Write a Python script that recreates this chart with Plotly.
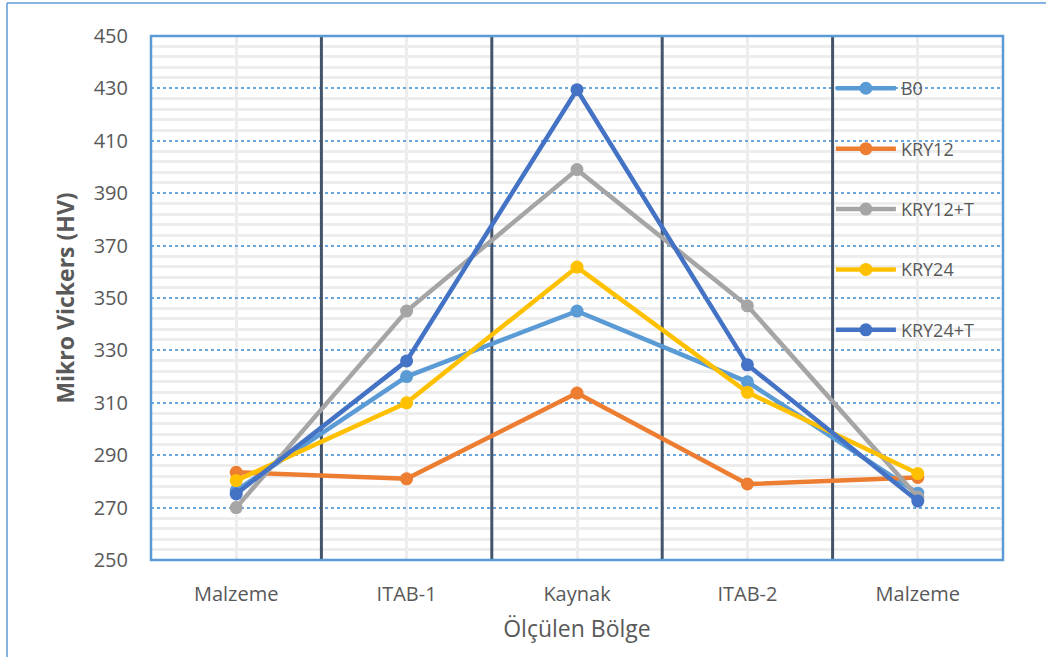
import plotly.graph_objects as go

categories = ["Malzeme", "ITAB-1", "Kaynak", "ITAB-2", "Malzeme"]

b0 = [276.5, 320, 345, 318, 275.5]
kry12 = [283.5, 281, 313.7, 279, 281.5]
kry12_t = [270, 345, 399, 347, 274]
kry24 = [280.3, 310, 361.8, 314, 283]
kry24_t = [275.2, 326, 429.5, 324.5, 272.5]

series = [
    ("B0", b0, "#5B9BD5"),
    ("KRY12", kry12, "#ED7D31"),
    ("KRY12+T", kry12_t, "#A5A5A5"),
    ("KRY24", kry24, "#FFC000"),
    ("KRY24+T", kry24_t, "#4472C4"),
]

FONT = "'Open Sans', 'Noto Sans', sans-serif"
TXT = "#595959"
Y_MIN, Y_MAX = 250, 450

xpos = list(range(len(categories)))

fig = go.Figure()

# dark separators between measurement zones
for i in range(len(categories) - 1):
    b = i + 0.5
    fig.add_trace(go.Scatter(
        x=[b, b], y=[Y_MIN, Y_MAX], mode="lines", showlegend=False, hoverinfo="skip",
        line=dict(color="#44546A", width=3),
    ))

for name, vals, color in series:
    fig.add_trace(go.Scatter(
        x=xpos, y=vals, name=name, mode="lines+markers",
        legendgroup=name,
        line=dict(color=color, width=4.5),
        marker=dict(color=color, size=13),
    ))

shapes = []
# plot area frame
shapes.append(dict(type="rect", xref="paper", yref="paper", x0=0, x1=1, y0=0, y1=1,
                   line=dict(color="#5B9BD5", width=2.5), layer="above"))
# chart frame (left and top edges)
shapes.append(dict(type="line", xref="paper", yref="paper",
                   x0=(7 - 151) / 852, x1=(7 - 151) / 852, y0=(560 - 3) / 524, y1=-0.2,
                   line=dict(color="#5B9BD5", width=1.5)))
shapes.append(dict(type="line", xref="paper", yref="paper",
                   x0=(7 - 151) / 852, x1=1.1, y0=(560 - 3) / 524, y1=(560 - 3) / 524,
                   line=dict(color="#5B9BD5", width=1.5)))

fig.update_layout(
    width=1046, height=657,
    margin=dict(l=151, r=43, t=36, b=97),
    paper_bgcolor="white", plot_bgcolor="white",
    font=dict(family=FONT, color=TXT, size=19),
    shapes=shapes,
    showlegend=True,
    legend=dict(x=0.798, y=0.935, xanchor="left", yanchor="top",
                bgcolor="rgba(0,0,0,0)", font=dict(size=18, color=TXT),
                tracegroupgap=34, itemwidth=60),
    xaxis=dict(
        range=[-0.5, 4.5],
        tickvals=xpos, ticktext=categories,
        showgrid=True, gridcolor="#EDEDED", gridwidth=2.5,
        zeroline=False, showline=False, ticks="", ticklabelstandoff=20,
        title=dict(text="Ölçülen Bölge", font=dict(size=23, color=TXT), standoff=14),
        tickfont=dict(size=20, color=TXT),
    ),
    yaxis=dict(
        range=[Y_MIN, Y_MAX], dtick=20, tick0=250,
        showgrid=True, gridcolor="#6AA7DE", gridwidth=1.5, griddash="dot",
        minor=dict(dtick=4, tick0=250, showgrid=True, gridcolor="#EDEDED",
                   gridwidth=2.5, griddash="solid"),
        zeroline=False, showline=False, ticks="", ticklabelstandoff=22,
        title=dict(text="<b>Mikro Vickers (HV)</b>", font=dict(size=23, color=TXT), standoff=12),
        tickfont=dict(size=20, color=TXT),
    ),
)

fig.write_html("out.html")
